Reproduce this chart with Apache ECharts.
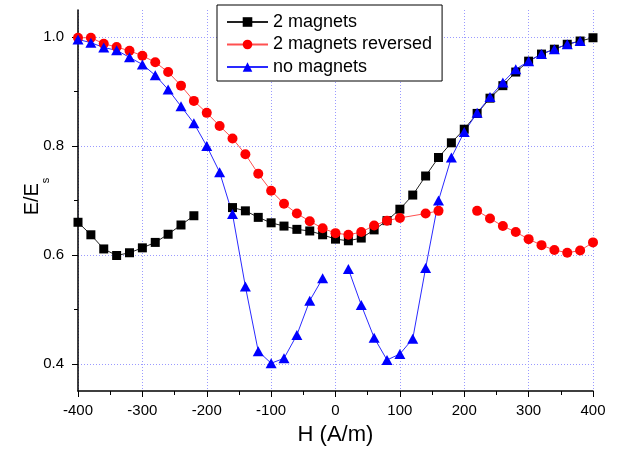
<!DOCTYPE html>
<html>
<head>
<meta charset="utf-8">
<script src="https://cdn.jsdelivr.net/npm/echarts@6/dist/echarts.min.js"></script>
<style>
html, body { margin: 0; padding: 0; background: #fff; }
#chart { width: 624px; height: 453px; }
</style>
</head>
<body>
<div id="chart"></div>
<script>
// H values (A/m)
var hField = [-400, -380, -360, -340, -320, -300, -280, -260, -240, -220, -200, -180, -160, -140, -120, -100, -80, -60, -40, -20, 0,
    20, 40, 60, 80, 100, 120, 140, 160, 180, 200, 220, 240, 260, 280, 300, 320, 340, 360, 380, 400];
// the reversed run has no point at 120
var hReversed = [-400, -380, -360, -340, -320, -300, -280, -260, -240, -220, -200, -180, -160, -140, -120, -100, -80, -60, -40, -20, 0,
    20, 40, 60, 80, 100, 140, 160, 180, 200, 220, 240, 260, 280, 300, 320, 340, 360, 380, 400];

// E/Es, null = no point (line broken)
var twoMagnets = [0.660, 0.637, 0.611, 0.599, 0.604, 0.613, 0.623, 0.638, 0.655, 0.672, null, null, 0.687, 0.681, 0.669, 0.659, 0.653, 0.647, 0.644, 0.637, 0.629,
    0.626, 0.631, 0.646, 0.663, 0.684, 0.710, 0.745, 0.779, 0.806, 0.831, 0.860, 0.888, 0.911, 0.936, 0.956, 0.969, 0.978, 0.987, 0.993, 0.999];
var twoMagnetsRev = [0.999, 0.999, 0.988, 0.982, 0.975, 0.966, 0.954, 0.936, 0.911, 0.883, 0.861, 0.837, 0.814, 0.785, 0.749, 0.718, 0.694, 0.676, 0.662, 0.649, 0.640,
    0.637, 0.642, 0.654, 0.663, 0.668, 0.676, 0.681, null, null, 0.681, 0.667, 0.653, 0.642, 0.629, 0.618, 0.609, 0.604, 0.608, 0.623];
var noMagnets = [0.996, 0.990, 0.981, 0.976, 0.963, 0.950, 0.930, 0.904, 0.873, 0.842, 0.800, 0.752, 0.675, 0.542, 0.423, 0.401, 0.410, 0.453, 0.516, 0.557, null,
    0.574, 0.508, 0.448, 0.407, 0.418, 0.446, 0.576, 0.700, 0.779, 0.826, 0.861, 0.890, 0.917, 0.941, 0.956, 0.969, 0.978, 0.987, 0.993, null];

var yMajor = [0.4, 0.6, 0.8, 1.0];
var yMinor = [0.5, 0.7, 0.9];

function pairs(xs, ys) {
    var out = [];
    for (var i = 0; i < xs.length; i++) {
        out.push([xs[i], ys[i] == null ? '-' : ys[i]]);
    }
    return out;
}

var myChart = echarts.init(document.getElementById('chart'));

var gridLine = { show: true, lineStyle: { color: '#9a9aff', width: 1, type: [1, 2] } };
var fontName = 'Liberation Sans';

var options = {
    backgroundColor: '#fff',
    animation: false,
    grid: { left: 78, right: 31, top: 10, bottom: 62, containLabel: false, outerBoundsMode: 'none' },
    legend: {
        left: 217,
        top: 5,
        orient: 'vertical',
        itemWidth: 41,
        itemHeight: 12,
        itemGap: 4.5,
        padding: [8, 10, 5, 9],
        borderColor: '#000',
        borderWidth: 1,
        borderRadius: 0,
        backgroundColor: '#fff',
        textStyle: { fontSize: 18, color: '#000', fontFamily: fontName, lineHeight: 18 },
        data: ['2 magnets', '2 magnets reversed', 'no magnets']
    },
    xAxis: {
        type: 'value',
        min: -400,
        max: 400,
        interval: 100,
        name: 'H (A/m)',
        nameLocation: 'middle',
        nameGap: 33,
        nameMoveOverlap: false,
        nameTextStyle: { fontSize: 22, color: '#000', fontFamily: fontName },
        axisLine: { onZero: false, lineStyle: { color: '#000', width: 1.5 } },
        axisTick: { inside: false, length: 6, lineStyle: { color: '#000' } },
        minorTick: { show: true, splitNumber: 2, length: 4, lineStyle: { color: '#000' } },
        axisLabel: { fontSize: 15, color: '#000', fontFamily: fontName, margin: 12 },
        splitLine: gridLine
    },
    yAxis: [{
        type: 'value',
        position: 'left',
        min: 0.35,
        max: 1.05,
        name: '{e|E/E}{s|s}',
        nameLocation: 'middle',
        nameGap: 27,
        nameMoveOverlap: false,
        nameTextStyle: {
            color: '#000', fontFamily: fontName, padding: [0, 0, 0, 8],
            rich: {
                e: { fontSize: 20, color: '#000', fontFamily: fontName, verticalAlign: 'top' },
                s: { fontSize: 11, color: '#000', fontFamily: fontName, verticalAlign: 'bottom', padding: [18, 0, 0, 0] }
            }
        },
        axisLine: { onZero: false, lineStyle: { color: '#000', width: 1.5 } },
        axisTick: { inside: false, length: 6, customValues: yMajor, lineStyle: { color: '#000' } },
        axisLabel: {
            customValues: yMajor, fontSize: 15, color: '#000', fontFamily: fontName, margin: 14,
            formatter: function (v) { return v.toFixed(1); }
        },
        splitLine: gridLine
    }, {
        // minor ticks only
        type: 'value',
        position: 'left',
        min: 0.35,
        max: 1.05,
        axisLine: { show: false, onZero: false },
        axisTick: { inside: false, length: 4, customValues: yMinor, lineStyle: { color: '#000' } },
        axisLabel: { show: false },
        splitLine: { show: false }
    }],
    series: [{
        name: '2 magnets',
        type: 'line',
        data: pairs(hField, twoMagnets),
        symbol: 'rect',
        symbolSize: 9,
        itemStyle: { color: '#000' },
        lineStyle: { color: '#222', width: 1 },
        connectNulls: false
    }, {
        name: '2 magnets reversed',
        type: 'line',
        data: pairs(hReversed, twoMagnetsRev),
        symbol: 'circle',
        symbolSize: 10,
        itemStyle: { color: '#ff0000' },
        lineStyle: { color: '#ff5050', width: 1 },
        connectNulls: false
    }, {
        name: 'no magnets',
        type: 'line',
        data: pairs(hField, noMagnets),
        symbol: 'triangle',
        symbolSize: [11, 10],
        itemStyle: { color: '#0000ff' },
        lineStyle: { color: '#2a2aff', width: 1 },
        connectNulls: false
    }]
};

myChart.setOption(options);
</script>
</body>
</html>
